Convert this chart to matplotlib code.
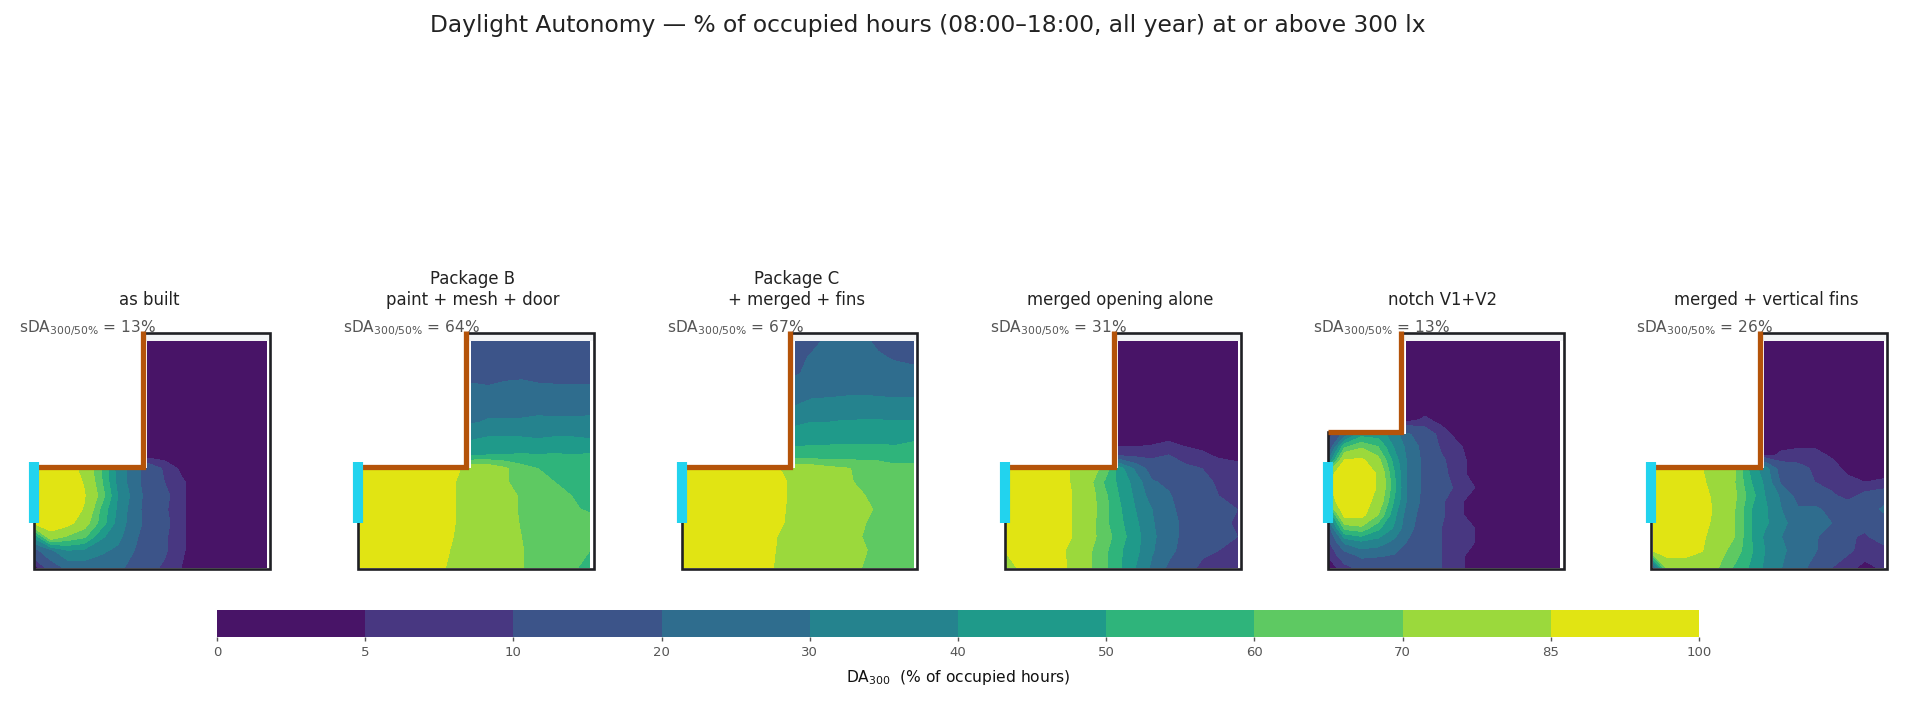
import numpy as np
import matplotlib
matplotlib.use("Agg")
import matplotlib.pyplot as plt
from matplotlib.colors import ListedColormap, BoundaryNorm
from matplotlib.cm import ScalarMappable

_ = np.nan

levels = [0, 5, 10, 20, 30, 40, 50, 60, 70, 85, 100]
band_colors = ["#481467", "#483781", "#3c5489", "#2f6d8e", "#25838e",
               "#1f9a8a", "#2fb47b", "#5ec962", "#9bd93c", "#e1e413"]

titles = ["as built", "Package B\npaint + mesh + door", "Package C\n+ merged + fins",
          "merged opening alone", "notch V1+V2", "merged + vertical fins"]
sda = [13, 64, 67, 31, 13, 26]

# grid lines in metres, walls sit on a grid line so the L shape stays clean
xs = [0.05, 0.5, 1, 1.5, 2, 2.5, 3, 3.4, 3.9, 4.4, 4.9, 5.4, 5.9, 6.4, 6.96]
ys = [8.4, 7.8, 7.2, 6.6, 6, 5.4, 4.8, 4.2, 3.7, 3.2, 2.7, 2.2, 1.7, 1.2, 0.7, 0.05]
xs_notch = [0.05, 0.5, 1, 1.5, 2, 2.35, 2.9, 3.4, 3.9, 4.4, 4.9, 5.4, 5.9, 6.4, 6.96]
ys_notch = [8.4, 7.6, 6.8, 6, 5.5, 4.95, 4.5, 4, 3.5, 3, 2.5, 2, 1.5, 1, 0.5, 0.05]

as_built = [
    [_, _, _, _, _, _, _, 2, 2, 2, 2, 2, 2, 2, 2],
    [_, _, _, _, _, _, _, 2, 2, 2, 2, 2, 2, 2, 2],
    [_, _, _, _, _, _, _, 2, 2, 2, 2, 2, 2, 2, 2],
    [_, _, _, _, _, _, _, 2, 2, 2, 2, 2, 2, 2, 2],
    [_, _, _, _, _, _, _, 2, 2, 2, 2, 2, 2, 2, 2],
    [_, _, _, _, _, _, _, 2, 2, 2, 2, 2, 2, 2, 2],
    [_, _, _, _, _, _, _, 2, 2, 2, 2, 2, 2, 2, 2],
    [_, _, _, _, _, _, _, 2, 2, 2, 2, 2, 2, 2, 2],
    [92, 92, 92, 80, 60, 36, 24, 15, 9, 4, 2, 2, 2, 2, 2],
    [92, 92, 92, 84, 62, 37, 24, 15, 10, 6, 2, 2, 2, 2, 2],
    [92, 92, 92, 86, 66, 40, 26, 16, 12, 6, 2, 2, 2, 2, 2],
    [92, 92, 92, 84, 58, 38, 24, 16, 11, 6, 2, 2, 2, 2, 2],
    [90, 92, 90, 76, 56, 36, 24, 17, 12, 6, 2, 2, 2, 2, 2],
    [45, 80, 68, 62, 42, 33, 22, 15, 11, 6, 2, 2, 2, 2, 2],
    [18, 28, 40, 38, 32, 28, 20, 14, 11, 6, 2, 2, 2, 2, 2],
    [3, 14, 22, 24, 24, 22, 17, 12, 9, 5, 2, 2, 2, 2, 2],
]
package_b = [
    [_, _, _, _, _, _, _, 15, 15, 15, 15, 15, 15, 15, 15],
    [_, _, _, _, _, _, _, 15, 15, 15, 15, 16, 15, 16, 15],
    [_, _, _, _, _, _, _, 17, 17, 18, 18, 17, 18, 18, 18],
    [_, _, _, _, _, _, _, 22, 21, 22, 23, 22, 21, 21, 21],
    [_, _, _, _, _, _, _, 25, 26, 26, 27, 27, 26, 26, 27],
    [_, _, _, _, _, _, _, 29, 31, 31, 31, 32, 32, 32, 32],
    [_, _, _, _, _, _, _, 39, 41, 41, 41, 40, 41, 41, 40],
    [_, _, _, _, _, _, _, 48, 50, 50, 51, 50, 51, 50, 51],
    [90, 90, 90, 90, 90, 90, 86, 80, 78, 72, 64, 60, 57, 56, 55],
    [90, 90, 90, 90, 90, 90, 84, 82, 80, 71, 67, 64, 60, 58, 56],
    [90, 90, 90, 90, 90, 90, 84, 82, 80, 76, 68, 64, 61, 60, 58],
    [90, 90, 90, 90, 90, 90, 84, 82, 80, 76, 68, 65, 63, 61, 59],
    [90, 90, 90, 90, 90, 90, 84, 82, 80, 76, 69, 65, 65, 65, 63],
    [90, 90, 90, 90, 90, 90, 83, 81, 78, 75, 70, 64, 64, 63, 63],
    [90, 90, 90, 90, 90, 88, 82, 80, 78, 74, 71, 64, 64, 62, 60],
    [90, 90, 90, 90, 90, 86, 82, 80, 78, 74, 71, 64, 63, 61, 58],
]
package_c = [
    [_, _, _, _, _, _, _, 17, 17, 22, 20, 22, 18, 17, 15],
    [_, _, _, _, _, _, _, 17, 21, 24, 22, 22, 21, 19, 18],
    [_, _, _, _, _, _, _, 19, 22, 25, 25, 25, 24, 23, 22],
    [_, _, _, _, _, _, _, 24, 26, 27, 28, 28, 27, 27, 27],
    [_, _, _, _, _, _, _, 30, 33, 33, 33, 34, 34, 33, 33],
    [_, _, _, _, _, _, _, 38, 40, 40, 41, 41, 41, 41, 41],
    [_, _, _, _, _, _, _, 46, 47, 48, 48, 47, 47, 47, 49],
    [_, _, _, _, _, _, _, 54, 54, 53, 54, 55, 56, 54, 54],
    [90, 90, 90, 90, 90, 90, 84, 78, 76, 73, 71, 68, 65, 63, 64],
    [90, 90, 90, 90, 90, 90, 88, 80, 78, 76, 72, 68, 65, 63, 62],
    [90, 90, 90, 90, 90, 90, 88, 80, 78, 78, 75, 71, 66, 63, 63],
    [90, 90, 90, 90, 90, 90, 87, 80, 78, 78, 76, 74, 68, 64, 69],
    [90, 90, 90, 90, 90, 90, 86, 80, 78, 76, 74, 71, 67, 66, 64],
    [90, 90, 90, 90, 90, 90, 83, 78, 77, 76, 73, 70, 66, 68, 64],
    [90, 90, 90, 90, 90, 90, 82, 79, 77, 75, 73, 72, 66, 63, 68],
    [90, 90, 90, 90, 90, 88, 82, 79, 77, 75, 73, 70, 64, 62, 61],
]
merged_alone = [
    [_, _, _, _, _, _, _, 2, 2, 2, 2, 2, 2, 2, 2],
    [_, _, _, _, _, _, _, 2, 2, 2, 2, 2, 2, 2, 2],
    [_, _, _, _, _, _, _, 2, 2, 2, 2, 2, 2, 2, 2],
    [_, _, _, _, _, _, _, 2, 2, 2, 2, 2, 2, 2, 2],
    [_, _, _, _, _, _, _, 2, 2, 2, 2, 2, 2, 2, 2],
    [_, _, _, _, _, _, _, 2, 2, 2, 2, 2, 2, 2, 2],
    [_, _, _, _, _, _, _, 2, 3, 3, 4, 2, 2, 2, 2],
    [_, _, _, _, _, _, _, 8, 7, 8, 10, 8, 6, 4, 4],
    [92, 92, 92, 92, 84, 76, 66, 45, 28, 15, 12, 11, 10, 8, 6],
    [92, 92, 92, 92, 84, 74, 58, 48, 36, 21, 18, 14, 12, 9, 8],
    [92, 92, 92, 92, 85, 76, 62, 50, 38, 25, 21, 15, 12, 10, 7],
    [92, 92, 92, 92, 85, 76, 63, 52, 40, 30, 22, 17, 14, 12, 10],
    [92, 92, 92, 92, 85, 76, 62, 53, 42, 31, 23, 18, 14, 12, 9],
    [92, 92, 92, 92, 85, 74, 65, 55, 44, 32, 24, 17, 14, 11, 10],
    [88, 92, 92, 92, 80, 72, 62, 52, 43, 31, 23, 16, 11, 10, 10],
    [72, 92, 92, 92, 82, 72, 62, 52, 40, 28, 18, 12, 9, 7, 9],
]
notch = [
    [_, _, _, _, _, 2, 2, 2, 2, 2, 2, 2, 2, 2, 2],
    [_, _, _, _, _, 2, 2, 2, 2, 2, 2, 2, 2, 2, 2],
    [_, _, _, _, _, 2, 2, 2, 2, 2, 2, 2, 2, 2, 2],
    [_, _, _, _, _, 2, 2, 2, 2, 2, 2, 2, 2, 2, 2],
    [_, _, _, _, _, 2, 6, 3, 2, 2, 2, 2, 2, 2, 2],
    [8, 24, 46, 45, 35, 22, 14, 8, 3, 2, 2, 2, 2, 2, 2],
    [12, 58, 68, 60, 38, 28, 16, 9, 6, 2, 2, 2, 2, 2, 2],
    [34, 86, 88, 74, 45, 30, 17, 11, 7, 3, 2, 2, 2, 2, 2],
    [82, 92, 92, 84, 50, 30, 17, 12, 7, 3, 2, 2, 2, 2, 2],
    [84, 92, 92, 84, 52, 30, 17, 12, 9, 5, 4, 2, 2, 2, 2],
    [80, 92, 92, 80, 48, 30, 16, 11, 6, 3, 2, 2, 2, 2, 2],
    [40, 90, 90, 70, 42, 26, 15, 11, 6, 3, 2, 2, 2, 2, 2],
    [18, 62, 66, 52, 38, 24, 14, 10, 7, 5, 2, 2, 2, 2, 2],
    [10, 32, 38, 35, 27, 20, 14, 10, 6, 5, 2, 2, 2, 2, 2],
    [6, 14, 22, 21, 19, 15, 13, 10, 7, 2, 2, 2, 2, 2, 2],
    [2, 8, 12, 11, 14, 13, 12, 10, 7, 2, 2, 2, 2, 2, 2],
]
merged_fins = [
    [_, _, _, _, _, _, _, 2, 2, 2, 2, 2, 2, 2, 2],
    [_, _, _, _, _, _, _, 2, 2, 2, 2, 2, 2, 2, 2],
    [_, _, _, _, _, _, _, 2, 2, 2, 2, 2, 2, 2, 2],
    [_, _, _, _, _, _, _, 2, 2, 2, 2, 2, 2, 2, 2],
    [_, _, _, _, _, _, _, 2, 2, 2, 2, 2, 2, 2, 2],
    [_, _, _, _, _, _, _, 2, 2, 2, 2, 2, 2, 2, 2],
    [_, _, _, _, _, _, _, 2, 2, 2, 2, 2, 2, 2, 2],
    [_, _, _, _, _, _, _, 3, 6, 7, 7, 4, 2, 2, 2],
    [90, 90, 90, 86, 74, 72, 45, 35, 14, 12, 9, 8, 3, 2, 2],
    [92, 92, 92, 88, 76, 70, 50, 38, 18, 13, 10, 8, 7, 5, 6],
    [92, 92, 92, 90, 80, 72, 54, 40, 28, 16, 13, 11, 8, 12, 14],
    [92, 92, 92, 90, 82, 70, 50, 42, 30, 21, 22, 17, 14, 13, 22],
    [92, 92, 92, 90, 80, 70, 50, 42, 32, 26, 22, 20, 14, 12, 13],
    [90, 92, 92, 88, 76, 70, 50, 38, 30, 25, 21, 16, 11, 9, 14],
    [88, 90, 90, 86, 74, 66, 51, 40, 32, 25, 21, 13, 11, 8, 7],
    [15, 78, 78, 74, 70, 58, 48, 38, 30, 24, 16, 10, 7, 3, 6],
]
grids = [as_built, package_b, package_c, merged_alone, notch, merged_fins]

W, H = 1915, 702
SCALE_X, SCALE_Y = 33.33, 27.23  # px per metre
panel_left = [34.3, 358, 681.7, 1005.3, 1328, 1651.5]
FLOOR_PX = 569.3

cmap = ListedColormap(band_colors)
norm = BoundaryNorm(levels, cmap.N)

fig = plt.figure(figsize=(W / 100, H / 100), dpi=100)
fig.suptitle("Daylight Autonomy — % of occupied hours (08:00–18:00, all year) at or above 300 lx",
             x=928 / W, y=1 - 25.5 / H, va="center", fontsize=16.8, color="#222222")

for i in range(6):
    is_notch = i == 4
    x_grid = xs_notch if is_notch else xs
    y_grid = ys_notch if is_notch else ys
    wall_x = 2.2 if is_notch else 3.25
    wall_y = 5.03 if is_notch else 3.75

    # axes run 15 px left of the plan and 8 px right of it
    ax_left = panel_left[i] - 15
    ax_right = panel_left[i] + 244
    ax_top, ax_bottom = 327.7, 576
    ax = fig.add_axes([ax_left / W, 1 - ax_bottom / H, (ax_right - ax_left) / W, (ax_bottom - ax_top) / H])
    ax.set_xlim(-15 / SCALE_X, 244 / SCALE_X)
    ax.set_ylim((FLOOR_PX - ax_bottom) / SCALE_Y, (FLOOR_PX - ax_top) / SCALE_Y)
    ax.axis("off")

    ax.contourf(x_grid, y_grid, np.array(grids[i], dtype=float), levels=levels,
                cmap=cmap, norm=norm, corner_mask=False)

    ax.fill_between([wall_x, 7.07], 8.4, 8.67, color="#f3f4f6", lw=0)
    ax.plot([wall_x, 7.07, 7.07, 0, 0], [8.67, 8.67, 0, 0, wall_y], color="#1f2024", lw=1.9,
            solid_joinstyle="miter", zorder=3)
    ax.plot([0, wall_x, wall_x], [wall_y, wall_y, 8.75], color="#b45309", lw=3.8,
            solid_joinstyle="miter", solid_capstyle="butt", zorder=5)
    ax.plot([0, 0], [1.7, 3.93], color="#22d3ee", lw=7.3, solid_capstyle="butt", zorder=6)

    ax.set_title(titles[i], fontsize=11.9, color="#222222", pad=16.2)
    ax.text(0, 1, f"sDA$_{{300/50\\%}}$ = {sda[i]}%", transform=ax.transAxes, ha="left", va="center",
            fontsize=11.1, color="#555555", zorder=4)

cax = fig.add_axes([217 / W, 1 - 637 / H, (1699 - 217) / W, (637 - 610.4) / H])
cb = fig.colorbar(ScalarMappable(norm=norm, cmap=cmap), cax=cax, orientation="horizontal",
                  spacing="uniform", ticks=levels)
cb.outline.set_visible(False)
cb.ax.tick_params(labelsize=9.5, colors="#555555", length=3, width=1)
cb.set_label("DA$_{300}$  (% of occupied hours)", fontsize=11.2, color="#111111", labelpad=6.5)

fig.savefig("out.png", dpi=100)
